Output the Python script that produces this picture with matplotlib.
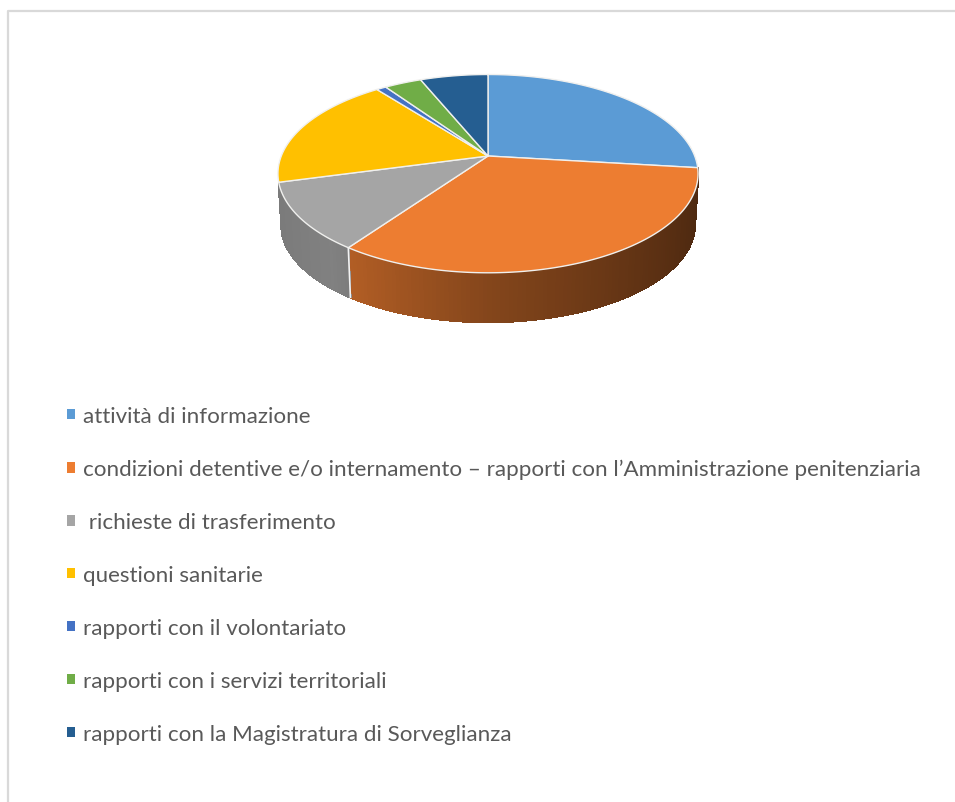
import matplotlib
matplotlib.use('Agg')
import matplotlib.pyplot as plt
import numpy as np
from matplotlib.collections import PolyCollection
from matplotlib.patches import Patch, Polygon

labels = ['attività di informazione',
          'condizioni detentive e/o internamento – rapporti con l’Amministrazione penitenziaria',
          ' richieste di trasferimento',
          'questioni sanitarie',
          'rapporti con il volontariato',
          'rapporti con i servizi territoriali',
          'rapporti con la Magistratura di Sorveglianza']
values = [26.9, 32.9, 11.0, 18.7, 0.9, 3.4, 6.2]
colors = ['#5b9bd5', '#ed7d31', '#a5a5a5', '#ffc000', '#4472c4', '#70ad47', '#255e91']

# pie placement in image pixels, with a bit of perspective like the excel 3d pie
cx, cy = 488, 157
a, b, k = 206.7, 96.0, 0.178
depth = 51
bottom_scale = 0.985


def project(theta, scale=1.0, shift=0):
    # theta is clockwise from twelve o'clock
    u, v = np.sin(theta), np.cos(theta)
    w = 1 + k * v
    return cx + scale * a * u / w, cy + shift - scale * b * v / w


def wall_shade(x):
    return np.interp(x, [-1, -0.66, 0, 1], [0.74, 0.78, 0.56, 0.32])


fig = plt.figure(figsize=(9.55, 8.03), dpi=100)
ax = fig.add_axes([0, 0, 1, 1])
ax.set_xlim(0, 955)
ax.set_ylim(803, 0)
ax.axis('off')

# frame of the word box (top and left only are visible)
ax.plot([7.5, 7.5, 955], [803, 11.5, 11.5], color='#d9d9d9', lw=1.6, solid_capstyle='butt')

edges = 2 * np.pi * np.concatenate([[0], np.cumsum(values)]) / np.sum(values)

# side wall, only the orange and grey slices show one
for i, col in enumerate(colors):
    t = np.linspace(edges[i], edges[i + 1], 120)
    xt, yt = project(t)
    xb, yb = project(t, bottom_scale, depth)
    quads = []
    shades = []
    base = np.array(matplotlib.colors.to_rgb(col))
    for j in range(len(t) - 1):
        if np.cos(t[j]) > -0.1 or i not in (1, 2):
            continue
        quads.append([(xt[j], yt[j]), (xt[j + 1], yt[j + 1]), (xb[j + 1], yb[j + 1]), (xb[j], yb[j])])
        shades.append(base * wall_shade(np.sin(t[j])))
    if quads:
        ax.add_collection(PolyCollection(quads, facecolors=shades, edgecolors=shades, linewidths=1.0,
                                         antialiaseds=False, zorder=2))

# white seam on the wall between orange and grey
xt, yt = project(edges[2])
xb, yb = project(edges[2], bottom_scale, depth)
ax.plot([xt, xb], [yt, yb], color='#f2f2f2', lw=1.2, zorder=3)

# top face
for i, col in enumerate(colors):
    t = np.linspace(edges[i], edges[i + 1], 200)
    xt, yt = project(t)
    pts = np.column_stack([np.r_[cx, xt], np.r_[cy, yt]])
    ax.add_patch(Polygon(pts, closed=True, facecolor=col, edgecolor='#f0f0ee', lw=1.0, joinstyle='round', zorder=4))

handles = [Patch(facecolor=c, edgecolor='none') for c in colors]
ax.legend(handles, labels, loc='upper left', bbox_to_anchor=(67 / 955, 1 - 407 / 803),
          frameon=False, prop={'family': 'Lato', 'size': 16.1}, labelcolor='#595959',
          borderpad=0, borderaxespad=0, handlelength=0.34, handleheight=0.34,
          handletextpad=0.37, labelspacing=1.475)

fig.savefig('out.png', dpi=100)
